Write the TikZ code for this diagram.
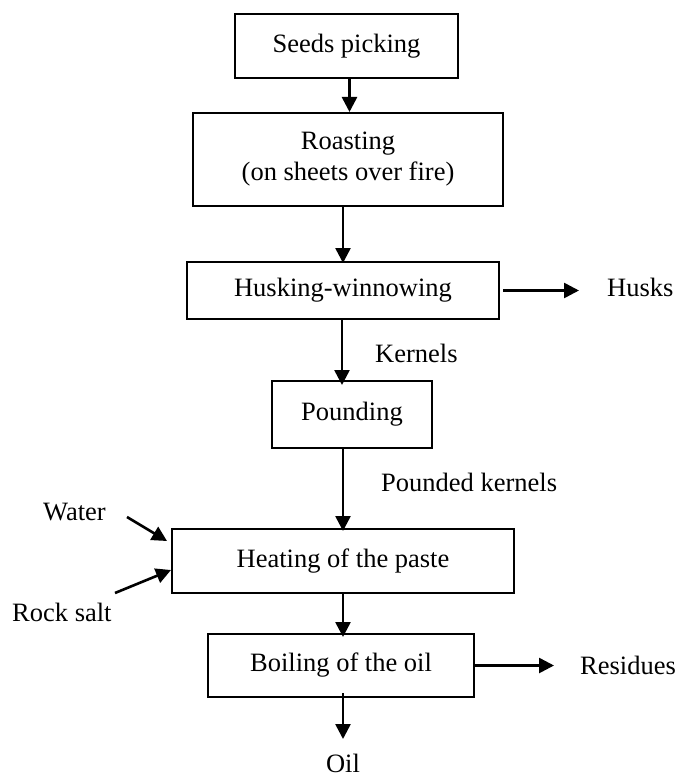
\documentclass[tikz,border=0pt]{standalone}
\usepackage{fontspec}
\setmainfont{Liberation Serif}
\usetikzlibrary{arrows.meta,calc}
\begin{document}
\begin{tikzpicture}[x=1pt,y=-1pt,
  every node/.style={font=\fontsize{26.5}{31}\selectfont},
  procbox/.style={draw,line width=2pt,inner sep=0pt,align=center},
  lbl/.style={inner sep=0pt,anchor=west},
  flow/.style={line width=2.6pt,-{Triangle[length=15pt,width=15pt]}}]
  \useasboundingbox (0,0) rectangle (680,778);

  % process steps
  \node[procbox,minimum width=223pt,minimum height=64pt] (seeds) at (346.5,46) {Seeds picking};
  \node[procbox,minimum width=310pt,minimum height=93pt] (roast) at (348,159.5) {Roasting\\(on sheets over fire)};
  \node[procbox,minimum width=312pt,minimum height=57pt] (husk) at (343,290.5) {Husking-winnowing};
  \node[procbox,minimum width=160pt,minimum height=67pt] (pound) at (352,414.5) {Pounding};
  \node[procbox,minimum width=342pt,minimum height=64pt] (heat) at (343,561) {Heating of the paste};
  \node[procbox,minimum width=266pt,minimum height=63pt] (boil) at (341,665.5) {Boiling of the oil};

  % inputs and outputs
  \node[lbl] (husks) at (607,287) {Husks};
  \node[lbl] (kern) at (375,353) {Kernels};
  \node[lbl] (pkern) at (381,482) {Pounded kernels};
  \node[lbl] (water) at (43,512) {Water};
  \node[lbl] (salt) at (12,612) {Rock salt};
  \node[lbl] (res) at (580,665.5) {Residues};
  \node[inner sep=0pt] (oil) at (343,763) {Oil};

  \coordinate (wstart) at (127,517);
  \coordinate (sstart) at (115,593);
  \coordinate (oilend) at (343,739);

  % main flow
  \draw[flow] ([xshift=3pt]seeds.south) -- ([xshift=3pt]seeds.south |- roast.north);
  \draw[flow] (husk.north |- roast.south) -- ([yshift=-2pt]husk.north);
  \draw[flow] ([xshift=-1pt]husk.south) -- ([xshift=-1pt,yshift=-5pt]husk.south |- pound.north);
  \draw[flow] (heat.north |- pound.south) -- ([yshift=-3pt]heat.north);
  \draw[flow] (heat.south) -- ([yshift=-4pt]heat.south |- boil.north);
  \draw[flow] ([yshift=5pt]boil.south -| oilend) -- (oilend);

  % side streams
  \draw[flow] ([xshift=3pt]husk.east) -- ([xshift=79pt]husk.east);
  \draw[flow] (boil.east) -- ([xshift=79pt]boil.east);
  \draw[flow] (wstart) -- ($(heat.north west)+(-4,13)$);
  \draw[flow] (sstart) -- ($(heat.west)+(0,9)$);
\end{tikzpicture}
\end{document}
